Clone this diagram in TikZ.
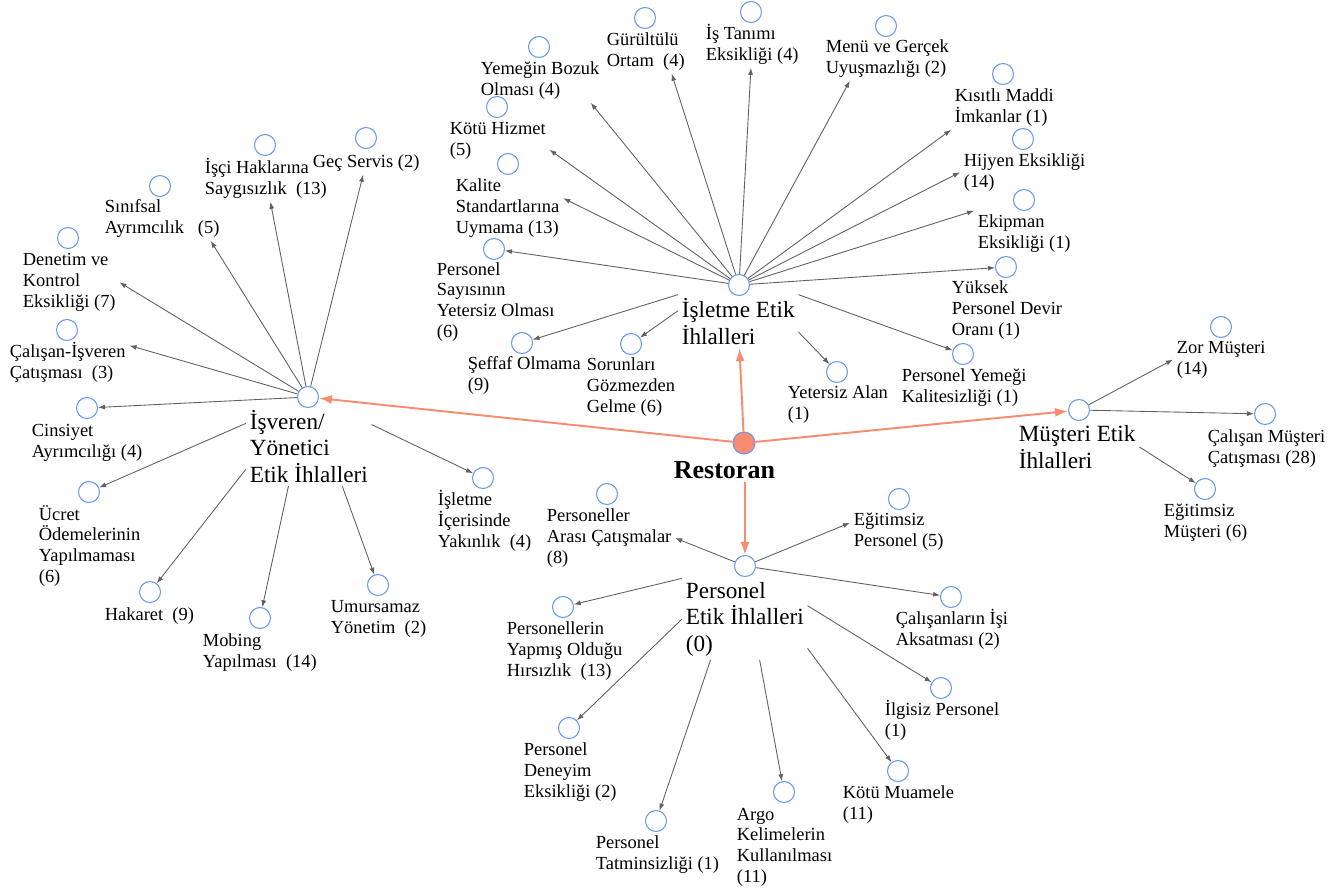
\documentclass[tikz,border=0pt]{standalone}
\usepackage{fontspec}
\setmainfont{Liberation Serif}
\usetikzlibrary{arrows.meta}
\definecolor{dotBlue}{RGB}{104,152,240}
\definecolor{salmonCS}{RGB}{247,140,112}
\colorlet{ArrGray}{black!62}

\begin{document}
\begin{tikzpicture}[x=0.02cm,y=-0.02cm,
    dot/.style={circle,draw=dotBlue,line width=0.6pt,minimum size=0.42cm,inner sep=0pt},
    lbl/.style={anchor=base west,align=left,inner sep=2pt,font=\fontsize{10.5}{11.7}\selectfont},
    hubtxt/.style={anchor=base west,align=left,inner sep=2pt,font=\fontsize{13.2}{15}\selectfont},
    arr/.style={-{Latex[length=1.4mm,width=1mm]},line width=0.5pt,ArrGray},
    main/.style={-{Latex[length=2.6mm,width=1.8mm]},line width=1.1pt,salmonCS}
  ]
  \useasboundingbox (0,0) rectangle (1343,893);

  \node[dot,fill=salmonCS,minimum size=0.44cm] (res) at (744,443) {};
  \node[anchor=base west,inner sep=2pt,font=\fontsize{14.8}{17}\selectfont\bfseries] (resT) at (670,478) {Restoran};

  \node[dot] (isv) at (308,397) {};
  \node[hubtxt] (isvT) at (246,482) {İşveren/\\Yönetici\\Etik İhlalleri};
  \node[dot] (isl) at (739,285) {};
  \node[hubtxt] (islT) at (678,344) {İşletme Etik\\İhlalleri};
  \node[dot] (mus) at (1079,410) {};
  \node[hubtxt] (musT) at (1015,468) {Müşteri Etik\\İhlalleri};
  \node[dot] (per) at (745,566) {};
  \node[hubtxt] (perT) at (682,651) {Personel\\Etik İhlalleri\\(0)};

  \draw[main] (res) -- (isv);
  \draw[main] (res) -- (islT);
  \draw[main] (res) -- (mus);
  \draw[main] (resT.south -| per) -- (per);

  \node[dot] (isv1) at (366,138) {};
  \node[lbl] (isv1T) at (309,167) {Geç Servis (2)};
  \node[dot] (isv2) at (265,145) {};
  \node[lbl] (isv2T) at (201,194) {İşçi Haklarına\\Saygısızlık~ (13)};
  \node[dot] (isv3) at (160,186) {};
  \node[lbl] (isv3T) at (101,233) {Sınıfsal\\Ayrımcılık~~~(5)};
  \node[dot] (isv4) at (68,238) {};
  \node[lbl] (isv4T) at (19,307) {Denetim ve\\Kontrol\\Eksikliği (7)};
  \node[dot] (isv5) at (67,330) {};
  \node[lbl] (isv5T) at (6,378) {Çalışan-İşveren\\Çatışması~ (3)};
  \node[dot] (isv6) at (87,408) {};
  \node[lbl] (isv6T) at (28,457) {Cinsiyet\\Ayrımcılığı (4)};
  \node[dot] (isv7) at (89,492) {};
  \node[lbl] (isv7T) at (35,582) {Ücret\\Ödemelerinin\\Yapılmaması\\(6)};
  \node[dot] (isv8) at (150,592) {};
  \node[lbl] (isv8T) at (101,620) {Hakaret~ (9)};
  \node[dot] (isv9) at (260,618) {};
  \node[lbl] (isv9T) at (199,667) {Mobing\\Yapılması~ (14)};
  \node[dot] (isv10) at (378,585) {};
  \node[lbl] (isv10T) at (327,633) {Umursamaz\\Yönetim~ (2)};
  \node[dot] (isv11) at (483,478) {};
  \node[lbl] (isv11T) at (434,547) {İşletme\\İçerisinde\\Yakınlık~ (4)};

  \draw[arr] (isv) -- (isv1T);
  \draw[arr] (isv) -- (isv2T);
  \draw[arr] (isv) -- (isv3T.-25);
  \draw[arr] (isv) -- (isv4T.east);
  \draw[arr] (isv) -- (isv5T.15);
  \draw[arr] (isv) -- (isv6);
  \draw[arr] (isvT.160) -- (isv7);
  \draw[arr] (isvT.200) -- (isv8);
  \draw[arr] (isvT.243) -- (isv9);
  \draw[arr] (isvT.-50) -- (isv10);
  \draw[arr] (isvT.19) -- (isv11);

  \node[dot] (isl1) at (539,47) {};
  \node[lbl] (isl1T) at (477,95) {Yemeğin Bozuk\\Olması (4)};
  \node[dot] (isl2) at (645,18) {};
  \node[lbl] (isl2T) at (603,66) {Gürültülü\\Ortam~ (4)};
  \node[dot] (isl3) at (751,12) {};
  \node[lbl] (isl3T) at (702,60) {İş Tanımı\\Eksikliği (4)};
  \node[dot] (isl4) at (886,26) {};
  \node[lbl] (isl4T) at (822,73) {Menü ve Gerçek\\Uyuşmazlığı (2)};
  \node[dot] (isl5) at (1003,74) {};
  \node[lbl] (isl5T) at (951,122) {Kısıtlı Maddi\\İmkanlar (1)};
  \node[dot] (isl6) at (1023,139) {};
  \node[lbl] (isl6T) at (960,187) {Hijyen Eksikliği\\(14)};
  \node[dot] (isl7) at (1024,200) {};
  \node[lbl] (isl7T) at (974,248) {Ekipman\\Eksikliği (1)};
  \node[dot] (isl8) at (1006,267) {};
  \node[lbl] (isl8T) at (948,335) {Yüksek\\Personel Devir\\Oranı (1)};
  \node[dot] (isl9) at (963,354) {};
  \node[lbl] (isl9T) at (898,402) {Personel Yemeği\\Kalitesizliği (1)};
  \node[dot] (isl10) at (837,372) {};
  \node[lbl] (isl10T) at (784,419) {Yetersiz Alan\\(1)};
  \node[dot] (isl11) at (631,344) {};
  \node[lbl] (isl11T) at (583,412) {Sorunları\\Gözmezden\\Gelme (6)};
  \node[dot] (isl12) at (522,343) {};
  \node[lbl] (isl12T) at (464,390) {Şeffaf Olmama\\(9)};
  \node[dot] (isl13) at (494,249) {};
  \node[lbl] (isl13T) at (433,337) {Personel\\Sayısının\\Yetersiz Olması\\(6)};
  \node[dot] (isl14) at (508,164) {};
  \node[lbl] (isl14T) at (452,233) {Kalite\\Standartlarına\\Uymama (13)};
  \node[dot] (isl15) at (497,107) {};
  \node[lbl] (isl15T) at (446,155) {Kötü Hizmet\\(5)};

  \draw[arr] (isl) -- (isl1T.-24);
  \draw[arr] (isl) -- (isl2T.-41);
  \draw[arr] (isl) -- (isl3T);
  \draw[arr] (isl) -- (isl4T.-149);
  \draw[arr] (isl) -- (isl5T.south west);
  \draw[arr] (isl) -- (isl6T.west);
  \draw[arr] (isl) -- (isl7T.north west);
  \draw[arr] (isl) -- (isl8);
  \draw[arr] (islT.north east) -- (isl9);
  \draw[arr] (islT.-10) -- (isl10);
  \draw[arr] (islT.170) -- (isl11);
  \draw[arr] (islT.north west) -- (isl12);
  \draw[arr] (isl) -- (isl13);
  \draw[arr] (isl) -- (isl14T.10);
  \draw[arr] (isl) -- (isl15T.-10);

  \node[dot] (mus1) at (1221,327) {};
  \node[lbl] (mus1T) at (1173,374) {Zor Müşteri\\(14)};
  \node[dot] (mus2) at (1265,414) {};
  \node[lbl] (mus2T) at (1204,463) {Çalışan Müşteri\\Çatışması (28)};
  \node[dot] (mus3) at (1205,489) {};
  \node[lbl] (mus3T) at (1160,537) {Eğitimsiz\\Müşteri (6)};

  \draw[arr] (mus) -- (mus1T.west);
  \draw[arr] (mus) -- (mus2);
  \draw[arr] (musT.east) -- (mus3);

  \node[dot] (per1) at (607,494) {};
  \node[lbl] (per1T) at (543,563) {Personeller\\Arası Çatışmalar\\(8)};
  \node[dot] (per2) at (899,499) {};
  \node[lbl] (per2T) at (850,546) {Eğitimsiz\\Personel (5)};
  \node[dot] (per3) at (951,597) {};
  \node[lbl] (per3T) at (892,645) {Çalışanların İşi\\Aksatması (2)};
  \node[dot] (per4) at (563,607) {};
  \node[lbl] (per4T) at (503,676) {Personellerin\\Yapmış Olduğu\\Hırsızlık~ (13)};
  \node[dot] (per5) at (941,688) {};
  \node[lbl] (per5T) at (881,736) {İlgisiz Personel\\(1)};
  \node[dot] (per6) at (569,728) {};
  \node[lbl] (per6T) at (520,797) {Personel\\Deneyim\\Eksikliği (2)};
  \node[dot] (per7) at (898,771) {};
  \node[lbl] (per7T) at (839,819) {Kötü Muamele\\(11)};
  \node[dot] (per8) at (784,792) {};
  \node[lbl] (per8T) at (733,882) {Argo\\Kelimelerin\\Kullanılması\\(11)};
  \node[dot] (per9) at (656,821) {};
  \node[lbl] (per9T) at (592,869) {Personel\\Tatminsizliği (1)};

  \draw[arr] (per) -- (per1T.east);
  \draw[arr] (per) -- (per2T.170);
  \draw[arr] (per) -- (per3);
  \draw[arr] (perT.north west) -- (per4);
  \draw[arr] (perT.12) -- (per5);
  \draw[arr] (perT.west) -- (per6);
  \draw[arr] (perT.-25) -- (per7);
  \draw[arr] (perT.-70) -- (per8);
  \draw[arr] (perT.-130) -- (per9);
\end{tikzpicture}
\end{document}
